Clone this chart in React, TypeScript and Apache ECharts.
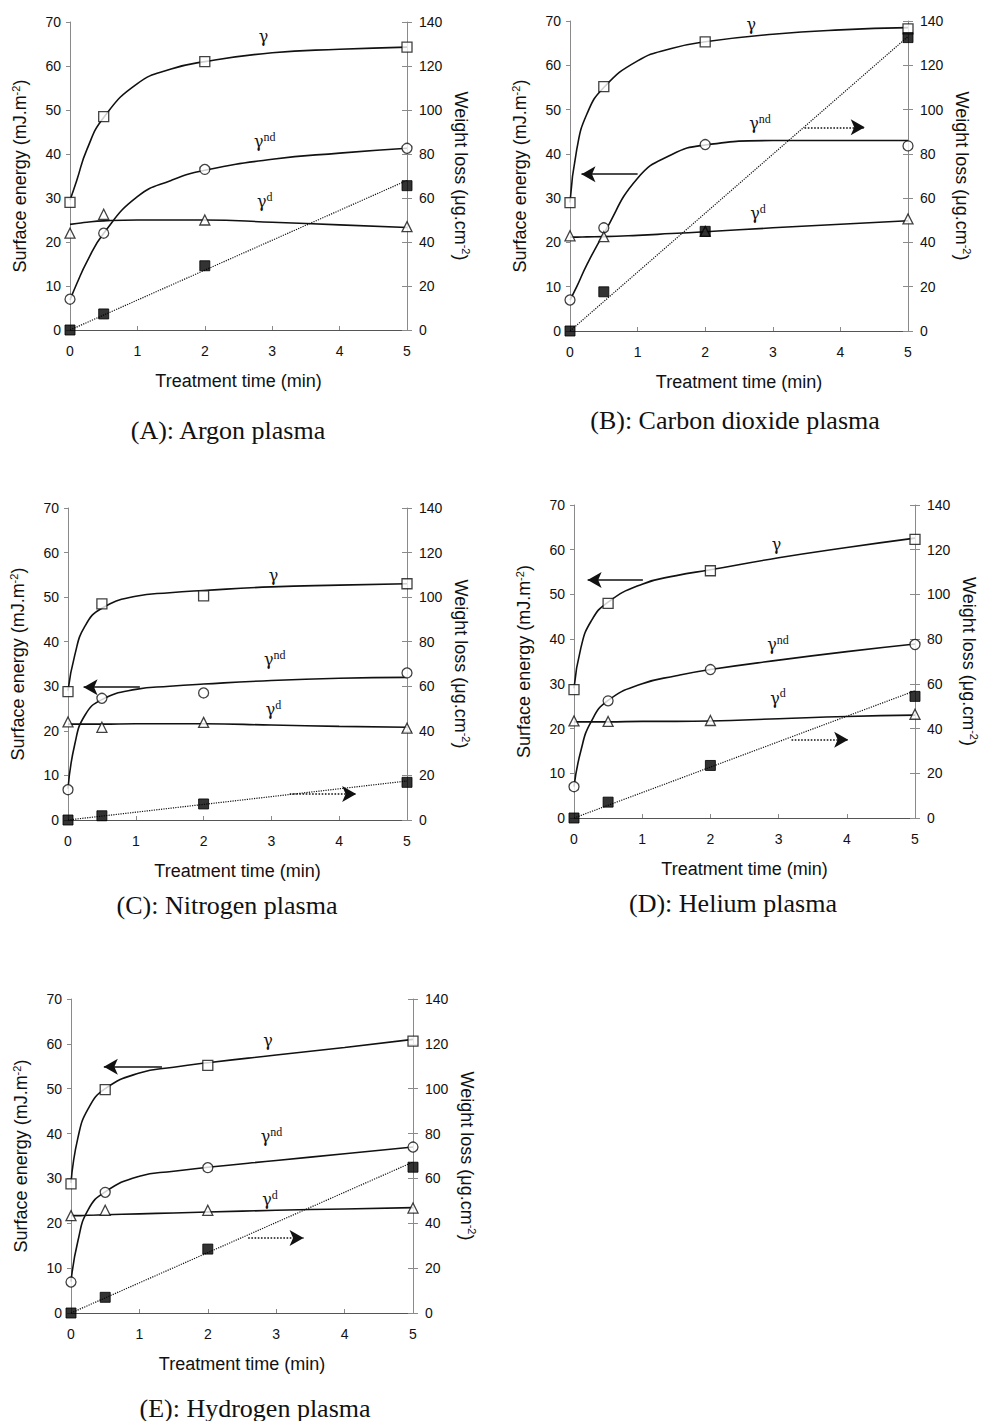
import React, { useEffect, useRef } from "react";
import * as echarts from "echarts";

// Measurement times (min)
const times = [0, 0.5, 2, 5];
const fitTimes = [0, 0.1, 0.25, 0.5, 1, 1.5, 2, 3, 4, 5];
const lineTimes = [0, 5];

const xTicks = [0, 1, 2, 3, 4, 5];
const leftTicks = [0, 10, 20, 30, 40, 50, 60, 70];
const rightTicks = [0, 20, 40, 60, 80, 100, 120, 140];

// (A) Argon
const gammaA = [29, 48.5, 61, 64.3];
const gammaNdA = [7, 22, 36.5, 41.3];
const gammaDA = [22, 26.3, 25, 23.5];
const weightA = [0, 7.3, 29.2, 65.6];
const gammaFitA = [29.5, 34, 41, 48.3, 56, 59.3, 61, 63, 63.8, 64.3];
const gammaNdFitA = [6.8, 10.5, 15.5, 22, 30.3, 34, 36.3, 38.8, 40.2, 41.3];
const gammaDFitA = [24, 24.2, 24.5, 24.8, 25, 25, 25, 24.5, 23.9, 23.3];
const weightFitA = [0, 68];

// (B) Carbon dioxide
const gammaB = [29, 55.2, 65.3, 68.2];
const gammaNdB = [7, 23.3, 42.1, 41.8];
const gammaDB = [21.5, 21.3, 22.5, 25.3];
const weightB = [0, 17.7, 45, 132.5];
const gammaFitB = [29, 41, 49, 55, 61, 63.8, 65.3, 67, 68, 68.5];
const gammaNdFitB = [7, 10, 15, 22, 34.5, 39.8, 42, 43, 43, 43];
const gammaDFitB = [21.2, 21.2, 21.25, 21.3, 21.6, 22, 22.4, 23.3, 24.1, 24.9];
const weightFitB = [0, 133];

// (C) Nitrogen
const gammaC = [28.8, 48.5, 50.3, 53];
const gammaNdC = [6.8, 27.3, 28.5, 33];
const gammaDC = [22, 20.8, 21.9, 20.6];
const weightC = [0, 1.9, 7.2, 16.9];
const gammaFitC = [29, 37, 43.5, 47.5, 50.2, 51, 51.5, 52.3, 52.7, 53];
const gammaNdFitC = [7, 17, 23.5, 27, 29.3, 30, 30.5, 31.3, 31.8, 32];
const gammaDFitC = [21.5, 21.5, 21.5, 21.5, 21.6, 21.6, 21.6, 21.3, 21, 20.8];
const weightFitC = [0, 17.5];

// (D) Helium
const gammaD = [28.7, 48, 55.3, 62.3];
const gammaNdD = [7, 26.2, 33.2, 38.8];
const gammaDD = [21.7, 21.6, 21.8, 23.2];
const weightD = [0, 7.1, 23.5, 54.4];
const gammaFitD = [29, 38, 44, 48.3, 52.3, 54.2, 55.5, 58.2, 60.5, 62.6];
const gammaNdFitD = [7, 15, 21.5, 26.3, 30, 31.8, 33.2, 35.3, 37.2, 38.9];
const gammaDFitD = [21.5, 21.5, 21.5, 21.5, 21.6, 21.6, 21.7, 22.2, 22.7, 23];
const weightFitD = [0, 56.9];

// (E) Hydrogen
const gammaE = [28.8, 49.8, 55.2, 60.6];
const gammaNdE = [6.9, 26.9, 32.4, 37];
const gammaDE = [21.7, 22.9, 22.9, 23.4];
const weightE = [0, 7, 28.5, 65];
const gammaFitE = [29, 39, 45.5, 50, 53.5, 54.8, 55.8, 57.5, 59.2, 61];
const gammaNdFitE = [7, 16, 23, 27, 30.5, 31.6, 32.5, 34, 35.5, 37];
const gammaDFitE = [21.7, 21.7, 21.8, 21.9, 22.1, 22.3, 22.5, 22.9, 23.2, 23.5];
const weightFitE = [0, 67.3];

const captions = [
  "(A): Argon plasma",
  "(B): Carbon dioxide plasma",
  "(C): Nitrogen plasma",
  "(D): Helium plasma",
  "(E): Hydrogen plasma",
];

type Panel = {
  grid: { left: number; top: number; width: number; height: number };
  caption: [number, number];
  g: number[]; nd: number[]; d: number[]; w: number[];
  gF: number[]; ndF: number[]; dF: number[]; wF: number[];
  lg: [number, number]; lnd: [number, number]; ld: [number, number];
  solid?: [[number, number], [number, number]];
  dotted?: [[number, number], [number, number]];
};

const panels: Panel[] = [
  {
    grid: { left: 70, top: 22, width: 337, height: 308 }, caption: [228, 430],
    g: gammaA, nd: gammaNdA, d: gammaDA, w: weightA,
    gF: gammaFitA, ndF: gammaNdFitA, dF: gammaDFitA, wF: weightFitA,
    lg: [2.87, 66.6], lnd: [2.89, 42.8], ld: [2.89, 29.1],
  },
  {
    grid: { left: 570, top: 21, width: 338, height: 310 }, caption: [735, 420],
    g: gammaB, nd: gammaNdB, d: gammaDB, w: weightB,
    gF: gammaFitB, ndF: gammaNdFitB, dF: gammaDFitB, wF: weightFitB,
    lg: [2.68, 69.2], lnd: [2.81, 46.8], ld: [2.78, 26.5],
    solid: [[1.0, 35.4], [0.17, 35.4]], dotted: [[3.47, 46], [4.36, 46]],
  },
  {
    grid: { left: 68, top: 508, width: 339, height: 312 }, caption: [227, 905],
    g: gammaC, nd: gammaNdC, d: gammaDC, w: weightC,
    gF: gammaFitC, ndF: gammaNdFitC, dF: gammaDFitC, wF: weightFitC,
    lg: [3.03, 54.8], lnd: [3.05, 35.9], ld: [3.03, 24.7],
    solid: [[1.06, 29.8], [0.23, 29.8]], dotted: [[3.27, 5.84], [4.25, 5.84]],
  },
  {
    grid: { left: 574, top: 505, width: 341, height: 313 }, caption: [733, 903],
    g: gammaD, nd: gammaNdD, d: gammaDD, w: weightD,
    gF: gammaFitD, ndF: gammaNdFitD, dF: gammaDFitD, wF: weightFitD,
    lg: [2.97, 61.1], lnd: [2.99, 38.7], ld: [2.99, 26.8],
    solid: [[1.01, 53.2], [0.2, 53.2]], dotted: [[3.19, 17.5], [4.02, 17.5]],
  },
  {
    grid: { left: 71, top: 999, width: 342, height: 314 }, caption: [255, 1408],
    g: gammaE, nd: gammaNdE, d: gammaDE, w: weightE,
    gF: gammaFitE, ndF: gammaNdFitE, dF: gammaDFitE, wF: weightFitE,
    lg: [2.88, 60.7], lnd: [2.93, 39.3], ld: [2.91, 25.2],
    solid: [[1.33, 54.9], [0.48, 54.9]], dotted: [[2.59, 16.7], [3.4, 16.7]],
  },
];

const INK = "#111";
const AXIS = "#8a8a8a";
const SANS = '"Liberation Sans", Arial, sans-serif';
const SERIF = '"Liberation Serif", "Times New Roman", serif';
const GREEK = '"DejaVu Serif", serif';

const zip = (xs: number[], ys: number[]) => xs.map((x, i) => [x, ys[i]]);

function buildOption() {
  const grid: any[] = [];
  const xAxis: any[] = [];
  const yAxis: any[] = [];
  const series: any[] = [];
  const graphic: any[] = [];

  const labelStyle = { color: INK, fontFamily: SANS, fontSize: 14 };
  const rich = {
    g: { fontFamily: GREEK, fontSize: 16, color: INK },
    s: { fontFamily: SERIF, fontSize: 12, color: INK, padding: [0, 0, 10, 0] },
  };
  const nameRich = (txt: string) => ({
    rich: {
      a: { color: INK, fontFamily: SANS, fontSize: 18 },
      s: { color: INK, fontFamily: SANS, fontSize: 11, padding: [0, 0, 9, 0] },
    },
  });

  panels.forEach((p, i) => {
    grid.push({ ...p.grid });
    xAxis.push({
      type: "value", gridIndex: i, min: xTicks[0], max: xTicks[xTicks.length - 1], interval: 1,
      name: "Treatment time (min)", nameLocation: "middle", nameGap: 42,
      nameTextStyle: { color: INK, fontFamily: SANS, fontSize: 18 },
      axisLine: { show: true, lineStyle: { color: "#555", width: 1 } },
      axisTick: { show: true, inside: true, length: 4, lineStyle: { color: AXIS } },
      axisLabel: { ...labelStyle, margin: 14 },
      splitLine: { show: false },
    });
    yAxis.push({
      type: "value", gridIndex: i, position: "left", min: leftTicks[0], max: leftTicks[leftTicks.length - 1], interval: 10,
      name: "{a|Surface energy (mJ.m}{s|-2}{a|)}", nameLocation: "middle", nameGap: 40, nameRotate: 90,
      nameTextStyle: nameRich(""),
      axisLine: { show: true, lineStyle: { color: AXIS, width: 1 } },
      axisTick: { show: true, inside: false, length: 4, lineStyle: { color: AXIS } },
      axisLabel: { ...labelStyle, margin: 9 },
      splitLine: { show: false },
    });
    yAxis.push({
      type: "value", gridIndex: i, position: "right", min: rightTicks[0], max: rightTicks[rightTicks.length - 1], interval: 20,
      name: "{a|Weight loss (μg.cm}{s|-2}{a|)}", nameLocation: "middle", nameGap: 44, nameRotate: -90,
      nameTextStyle: nameRich(""),
      axisLine: { show: true, lineStyle: { color: AXIS, width: 1 } },
      axisTick: { show: true, inside: false, length: 5, lineStyle: { color: AXIS } },
      axisLabel: { ...labelStyle, margin: 12 },
      splitLine: { show: false },
    });
    yAxis.push({
      type: "value", gridIndex: i, position: "right", offset: 0, min: rightTicks[0], max: rightTicks[rightTicks.length - 1], interval: 20,
      axisLine: { show: false },
      axisTick: { show: true, inside: true, length: 5, lineStyle: { color: AXIS } },
      axisLabel: { show: false },
      splitLine: { show: false },
    });

    const L = i * 3;
    const R = i * 3 + 1;
    const fitLine = (name: string, vals: number[], extra: any = {}) => ({
      name, type: "line", xAxisIndex: i, yAxisIndex: L,
      data: zip(fitTimes, vals), smooth: 0.5,
      showSymbol: false, symbol: "none", silent: true, z: 3,
      lineStyle: { color: INK, width: 1.6 }, ...extra,
    });

    series.push(
      fitLine("γ fit", p.gF, {
        markPoint: {
          silent: true, symbol: "circle", symbolSize: 1,
          itemStyle: { color: "rgba(0,0,0,0)" },
          label: { show: true, position: "inside", rich },
          data: [
            { coord: p.lg, label: { formatter: "{g|γ}" } },
            { coord: p.lnd, label: { formatter: "{g|γ}{s|nd}" } },
            { coord: p.ld, label: { formatter: "{g|γ}{s|d}" } },
          ],
        },
      })
    );
    series.push(fitLine("γnd fit", p.ndF));
    const arrows: any[] = [];
    if (p.solid) {
      arrows.push([
        { coord: p.solid[0], lineStyle: { type: "solid", width: 1.6, color: INK } },
        { coord: p.solid[1] },
      ]);
    }
    if (p.dotted) {
      arrows.push([
        { coord: p.dotted[0], lineStyle: { type: "dotted", width: 1.6, color: INK } },
        { coord: p.dotted[1] },
      ]);
    }
    series.push(
      fitLine("γd fit", p.dF, arrows.length
        ? {
            markLine: {
              silent: true, symbol: ["none", "arrow"], symbolSize: [12, 14],
              label: { show: false }, itemStyle: { color: INK },
              lineStyle: { color: INK },
              data: arrows,
            },
          }
        : {})
    );
    series.push({
      name: "weight fit", type: "line", xAxisIndex: i, yAxisIndex: R,
      data: zip(lineTimes, p.wF), showSymbol: false, symbol: "none", silent: true, z: 3,
      lineStyle: { color: INK, width: 1.2, type: "dotted" },
    });

    const scatter = (name: string, vals: number[], yIdx: number, symbol: string, size: number, filled: boolean) => ({
      name, type: "scatter", xAxisIndex: i, yAxisIndex: yIdx, data: zip(times, vals),
      symbol, symbolSize: size, clip: false, silent: true, z: 5,
      itemStyle: filled
        ? { color: "#000", borderColor: "#000", borderWidth: 1 }
        : { color: "#fff", borderColor: INK, borderWidth: 1.3 },
    });
    series.push(scatter("γ", p.g, L, "rect", 10, false));
    series.push(scatter("γnd", p.nd, L, "circle", 10, false));
    series.push(scatter("γd", p.d, L, "triangle", 10, false));
    series.push(scatter("weight loss", p.w, R, "rect", 10, true));

    graphic.push({
      type: "text", x: p.caption[0], y: p.caption[1],
      style: {
        text: captions[i], font: `26px ${SERIF}`, fill: INK,
        align: "center", verticalAlign: "middle",
        textAlign: "center", textVerticalAlign: "middle",
      },
    });
  });

  return {
    animation: false,
    backgroundColor: "#fff",
    grid, xAxis, yAxis, series, graphic,
  };
}

export default function App() {
  const ref = useRef<HTMLDivElement>(null);
  useEffect(() => {
    if (!ref.current) return;
    const chart = echarts.init(ref.current, undefined, { renderer: "svg" });
    chart.setOption(buildOption() as any);
    return () => chart.dispose();
  }, []);
  return (
    <div
      ref={ref}
      style={{ position: "fixed", left: 0, top: 0, width: 985, height: 1421, background: "#fff" }}
    />
  );
}
